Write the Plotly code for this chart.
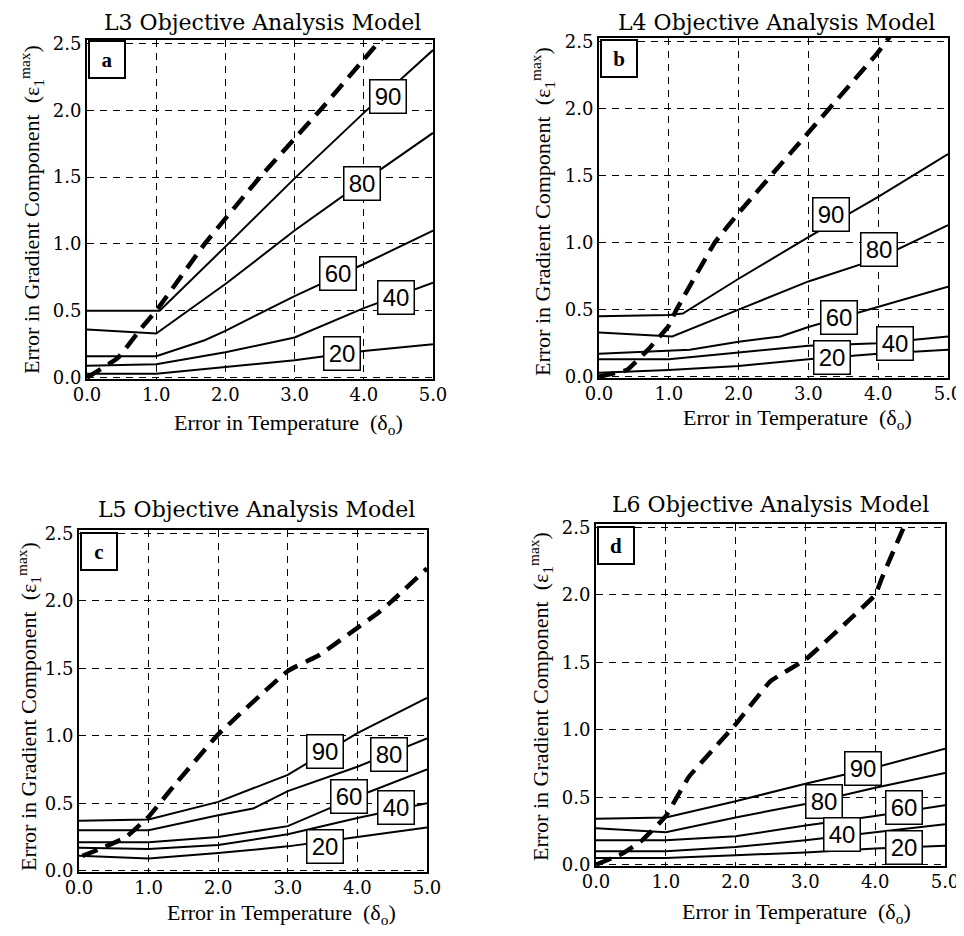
import plotly.graph_objects as go

# ---------------- data ----------------
X_TICKS = [0, 1, 2, 3, 4, 5]
X_TICK_TEXT = ["0.0", "1.0", "2.0", "3.0", "4.0", "5.0"]
Y_TICKS = [0, 0.5, 1.0, 1.5, 2.0, 2.5]
Y_TICK_TEXT = ["0.0", "0.5", "1.0", "1.5", "2.0", "2.5"]

TITLES = ["L3 Objective Analysis Model", "L4 Objective Analysis Model",
          "L5 Objective Analysis Model", "L6 Objective Analysis Model"]
PANEL_LETTERS = ["a", "b", "c", "d"]
LEVELS = ["90", "80", "60", "40", "20"]

# Panel a (L3)
L3_x90 = [0, 1.0, 1.05, 2.0, 3.0, 4.0, 5.0]
L3_y90 = [0.50, 0.50, 0.50, 0.98, 1.49, 1.98, 2.45]
L3_x80 = [0, 1.0, 2.0, 3.0, 4.0, 5.0]
L3_y80 = [0.36, 0.33, 0.70, 1.10, 1.47, 1.83]
L3_x60 = [0, 1.0, 1.7, 2.0, 3.0, 4.0, 5.0]
L3_y60 = [0.16, 0.16, 0.28, 0.35, 0.61, 0.85, 1.10]
L3_x40 = [0, 1.0, 2.0, 3.0, 4.0, 5.0]
L3_y40 = [0.09, 0.10, 0.19, 0.30, 0.52, 0.71]
L3_x20 = [0, 1.0, 2.0, 3.0, 4.0, 5.0]
L3_y20 = [0.03, 0.03, 0.08, 0.13, 0.20, 0.25]
L3_xd = [0, 0.45, 0.8, 1.0, 1.7, 2.5, 3.37, 4.0, 4.3]
L3_yd = [0.0, 0.15, 0.38, 0.50, 1.0, 1.5, 2.0, 2.38, 2.56]

# Panel b (L4)
L4_x90 = [0, 1.0, 1.2, 2.0, 3.0, 4.0, 5.0]
L4_y90 = [0.45, 0.46, 0.47, 0.73, 1.04, 1.34, 1.66]
L4_x80 = [0, 1.05, 2.0, 3.0, 4.0, 5.0]
L4_y80 = [0.33, 0.30, 0.50, 0.71, 0.88, 1.13]
L4_x60 = [0, 1.3, 2.0, 2.6, 3.0, 4.0, 5.0]
L4_y60 = [0.17, 0.20, 0.26, 0.30, 0.37, 0.52, 0.67]
L4_x40 = [0, 1.0, 2.0, 3.0, 4.0, 5.0]
L4_y40 = [0.13, 0.13, 0.18, 0.23, 0.25, 0.30]
L4_x20 = [0, 1.0, 2.0, 3.0, 4.0, 5.0]
L4_y20 = [0.03, 0.05, 0.08, 0.13, 0.17, 0.20]
L4_xd = [0, 0.4, 0.7, 1.0, 1.1, 1.66, 2.0, 3.0, 4.0, 4.2]
L4_yd = [0.0, 0.05, 0.20, 0.38, 0.49, 1.0, 1.22, 1.82, 2.42, 2.56]

# Panel c (L5)
L5_x90 = [0, 1.0, 2.0, 3.0, 4.0, 5.0]
L5_y90 = [0.37, 0.38, 0.51, 0.71, 1.02, 1.28]
L5_x80 = [0, 1.0, 2.0, 2.5, 3.0, 4.0, 5.0]
L5_y80 = [0.30, 0.30, 0.41, 0.46, 0.59, 0.77, 0.98]
L5_x60 = [0, 1.0, 2.0, 3.0, 4.0, 5.0]
L5_y60 = [0.21, 0.21, 0.25, 0.33, 0.55, 0.75]
L5_x40 = [0, 1.0, 2.0, 3.0, 4.0, 5.0]
L5_y40 = [0.17, 0.16, 0.19, 0.27, 0.39, 0.50]
L5_x20 = [0, 1.0, 2.0, 3.0, 4.0, 5.0]
L5_y20 = [0.11, 0.09, 0.13, 0.18, 0.25, 0.32]
L5_xd = [0.05, 0.3, 0.68, 1.0, 1.35, 2.0, 3.0, 3.46, 4.0, 4.27, 4.5, 5.0]
L5_yd = [0.11, 0.16, 0.25, 0.40, 0.62, 1.01, 1.48, 1.60, 1.80, 1.90, 2.0, 2.24]

# Panel d (L6)
L6_x90 = [0, 1.0, 2.0, 3.0, 4.0, 5.0]
L6_y90 = [0.34, 0.35, 0.47, 0.60, 0.72, 0.86]
L6_x80 = [0, 1.0, 2.0, 3.0, 4.0, 5.0]
L6_y80 = [0.27, 0.24, 0.35, 0.45, 0.57, 0.68]
L6_x60 = [0, 1.0, 2.0, 3.0, 4.0, 5.0]
L6_y60 = [0.18, 0.18, 0.21, 0.29, 0.36, 0.44]
L6_x40 = [0, 1.0, 2.0, 3.0, 4.0, 5.0]
L6_y40 = [0.10, 0.10, 0.13, 0.18, 0.24, 0.30]
L6_x20 = [0, 1.0, 2.0, 3.0, 4.0, 5.0]
L6_y20 = [0.05, 0.05, 0.07, 0.09, 0.12, 0.14]
L6_xd = [0, 0.37, 0.66, 1.0, 1.33, 2.0, 2.5, 3.0, 3.62, 4.0, 4.1, 4.45]
L6_yd = [0.0, 0.08, 0.18, 0.36, 0.65, 1.04, 1.36, 1.52, 1.81, 2.0, 2.13, 2.55]

# ---------------- layout / positions ----------------
PAGE_OFFSET = 8  # default body margin of the html page
W, H = 964 - PAGE_OFFSET, 936 - PAGE_OFFSET


def fx(p):
    return (p - PAGE_OFFSET) / W


def fy(p):
    return 1 - (p - PAGE_OFFSET) / H


# plot-area pixel boxes on the page (left, right, top, bottom)
BOXES = [(87, 433, 40, 379), (599, 948, 38, 378), (79, 427, 530, 872), (596, 945, 524, 866)]
TITLE_POS = [(262, 8), (776, 8), (256, 495), (770, 490)]
XTITLE_POS = [(288, 424), (797, 419), (281, 914), (796, 913)]
YTITLE_POS = [(32, 210), (542, 212), (28, 707), (540, 697)]
LETTER_POS = [(107, 60), (619, 59), (99, 551), (616, 545)]
# level-label positions in data coordinates, order 90, 80, 60, 40, 20
LABEL_POS = [
    [(4.35, 2.10), (3.98, 1.45), (3.63, 0.78), (4.47, 0.60), (3.69, 0.18)],
    [(3.33, 1.21), (4.01, 0.95), (3.44, 0.44), (4.24, 0.25), (3.34, 0.14)],
    [(3.53, 0.88), (4.46, 0.86), (3.88, 0.55), (4.55, 0.47), (3.53, 0.18)],
    [(3.83, 0.71), (3.26, 0.47), (4.41, 0.42), (3.53, 0.22), (4.41, 0.13)],
]

CURVES = [
    [(L3_x90, L3_y90), (L3_x80, L3_y80), (L3_x60, L3_y60), (L3_x40, L3_y40), (L3_x20, L3_y20)],
    [(L4_x90, L4_y90), (L4_x80, L4_y80), (L4_x60, L4_y60), (L4_x40, L4_y40), (L4_x20, L4_y20)],
    [(L5_x90, L5_y90), (L5_x80, L5_y80), (L5_x60, L5_y60), (L5_x40, L5_y40), (L5_x20, L5_y20)],
    [(L6_x90, L6_y90), (L6_x80, L6_y80), (L6_x60, L6_y60), (L6_x40, L6_y40), (L6_x20, L6_y20)],
]
DASHED = [(L3_xd, L3_yd), (L4_xd, L4_yd), (L5_xd, L5_yd), (L6_xd, L6_yd)]

SERIF_T = "DejaVu Serif"
SERIF_A = "Liberation Serif"
SANS = "Liberation Sans, Arial, sans-serif"

fig = go.Figure()
annotations = []
layout = {}

for i in range(4):
    n = "" if i == 0 else str(i + 1)
    xa, ya = "x" + n, "y" + n
    l, r, t, b = BOXES[i]

    for (cx, cy) in CURVES[i]:
        fig.add_trace(go.Scatter(x=cx, y=cy, xaxis=xa, yaxis=ya, mode="lines",
                                 line=dict(color="black", width=2), showlegend=False,
                                 hoverinfo="skip"))
    dx, dy = DASHED[i]
    fig.add_trace(go.Scatter(x=dx, y=dy, xaxis=xa, yaxis=ya, mode="lines",
                             line=dict(color="black", width=4.5, dash="16px,9px",
                                       shape="spline", smoothing=0.3),
                             showlegend=False, hoverinfo="skip"))

    common = dict(showline=True, mirror=True, linecolor="black", linewidth=2,
                  showgrid=True, gridcolor="black", gridwidth=1.3, griddash="7px,6px",
                  zeroline=False, ticks="", fixedrange=True, automargin=False,
                  tickfont=dict(family=SERIF_T, size=18, color="black"))
    layout["xaxis" + n] = dict(common, domain=[fx(l), fx(r)], range=[0, 5],
                               tickvals=X_TICKS, ticktext=X_TICK_TEXT,
                               anchor=ya, ticklabelstandoff=-2)
    layout["yaxis" + n] = dict(common, domain=[fy(b), fy(t)], range=[-0.01, 2.525],
                               tickvals=Y_TICKS, ticktext=Y_TICK_TEXT,
                               anchor=xa, ticklabelstandoff=0)

    # title
    annotations.append(dict(text=TITLES[i], xref="paper", yref="paper",
                            x=fx(TITLE_POS[i][0]), y=fy(TITLE_POS[i][1]),
                            xanchor="center", yanchor="top", showarrow=False,
                            font=dict(family=SERIF_T, size=22, color="black")))
    # x title
    annotations.append(dict(text="Error in Temperature  (δ<sub>o</sub>)", xref="paper", yref="paper",
                            x=fx(XTITLE_POS[i][0]), y=fy(XTITLE_POS[i][1]),
                            xanchor="center", yanchor="middle", showarrow=False,
                            font=dict(family=SERIF_A, size=22, color="black")))
    # y title
    annotations.append(dict(text="Error in Gradient Component  (ε<sub>1</sub><sup>max</sup>)",
                            xref="paper", yref="paper",
                            x=fx(YTITLE_POS[i][0]), y=fy(YTITLE_POS[i][1]),
                            xanchor="center", yanchor="middle", showarrow=False, textangle=-90,
                            font=dict(family=SERIF_A, size=22, color="black")))
    # panel letter
    annotations.append(dict(text="<b>" + PANEL_LETTERS[i] + "</b>", xref="paper", yref="paper",
                            x=fx(LETTER_POS[i][0]), y=fy(LETTER_POS[i][1]),
                            xanchor="center", yanchor="middle", showarrow=False,
                            width=34, height=35, borderpad=0, borderwidth=2,
                            bordercolor="black", bgcolor="white",
                            font=dict(family=SERIF_A, size=21, color="black")))
    # level labels
    for lev, (lx, ly) in zip(LEVELS, LABEL_POS[i]):
        annotations.append(dict(text=lev, xref=xa, yref=ya, x=lx, y=ly,
                                xanchor="center", yanchor="middle", showarrow=False,
                                width=31, height=28, borderpad=2, borderwidth=1.5,
                                bordercolor="black", bgcolor="white",
                                font=dict(family=SANS, size=24, color="black")))

fig.update_layout(**layout)
fig.update_layout(width=W, height=H, margin=dict(l=0, r=0, t=0, b=0, autoexpand=False),
                  paper_bgcolor="white", plot_bgcolor="white",
                  annotations=annotations, showlegend=False)

fig.write_html("out.html")
